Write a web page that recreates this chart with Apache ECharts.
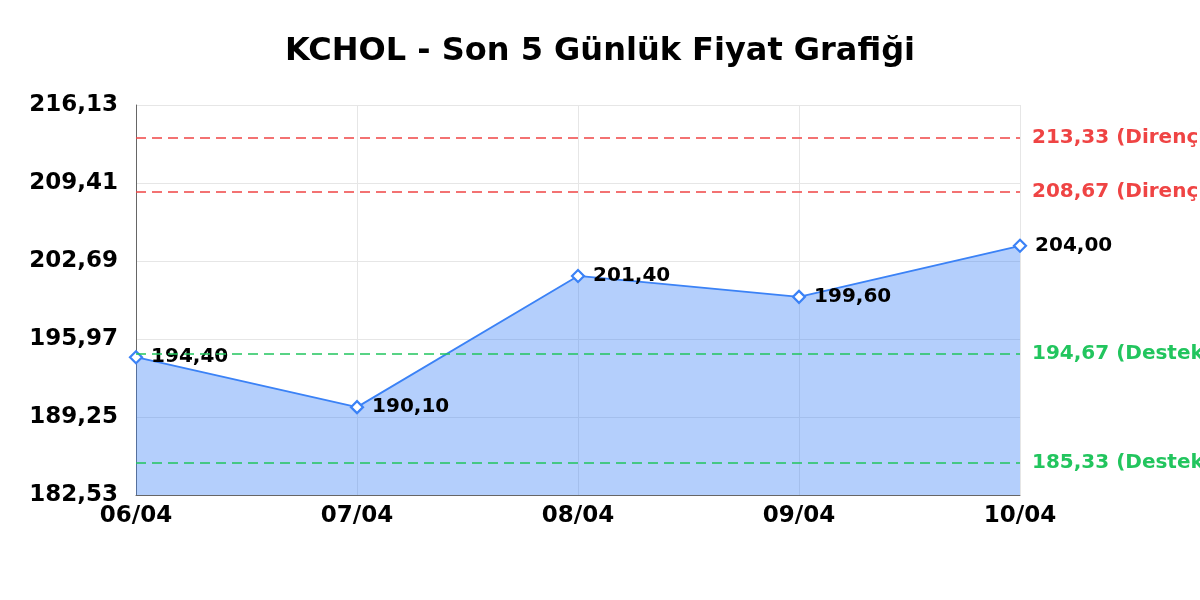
<!DOCTYPE html>
<html>
<head>
<meta charset="utf-8">
<script src="https://cdn.jsdelivr.net/npm/echarts@6/dist/echarts.min.js"></script>
<style>
  html, body { margin: 0; padding: 0; background: #fff; }
  #chart { width: 1200px; height: 600px; }
</style>
</head>
<body>
<div id="chart"></div>
<script>
// chart data
const dates = ['06/04', '07/04', '08/04', '09/04', '10/04']
const prices = [194.40, 190.10, 201.40, 199.60, 204.00]
const resistance = [213.33, 208.67]
const support = [194.67, 185.33]
const yMin = 182.53
const yMax = 216.13
const yStep = 6.72

const fmt = (v) => Number(v).toFixed(2).replace('.', ',')
const font = "'DejaVu Sans', Verdana, sans-serif"

const levelLines = [
  ...resistance.map(v => ({ yAxis: v, name: 'Direnç', color: '#ef4444' })),
  ...support.map(v => ({ yAxis: v, name: 'Destek', color: '#22c55e' }))
].map(l => ({
  yAxis: l.yAxis,
  lineStyle: { color: l.color, type: [10, 6], width: 1.5 },
  label: {
    show: true, position: 'end', distance: 12, color: l.color,
    fontFamily: font, fontWeight: 'bold', fontSize: 20,
    formatter: fmt(l.yAxis) + ' (' + l.name + ')'
  }
}))

const chart = echarts.init(document.getElementById('chart'))
chart.setOption({
  animation: false,
  title: {
    text: 'KCHOL - Son 5 Günlük Fiyat Grafiği',
    left: 'center', top: 31,
    textStyle: { fontFamily: font, fontWeight: 'bold', fontSize: 32, color: '#000' }
  },
  grid: { left: 136, right: 180, top: 105, bottom: 105 },
  xAxis: {
    type: 'category',
    data: dates,
    boundaryGap: false,
    axisLine: { lineStyle: { color: '#666' } },
    axisTick: { show: false },
    axisLabel: { fontFamily: font, fontWeight: 'bold', fontSize: 23, color: '#000', margin: 10 },
    splitLine: { show: true, lineStyle: { color: '#e6e6e6' } }
  },
  yAxis: {
    type: 'value',
    min: yMin, max: yMax, interval: yStep,
    axisLine: { show: true, lineStyle: { color: '#666' } },
    axisTick: { show: false },
    axisLabel: { fontFamily: font, fontWeight: 'bold', fontSize: 23, color: '#000', margin: 18, formatter: fmt },
    splitLine: { show: true, lineStyle: { color: '#e6e6e6' } }
  },
  series: [{
    type: 'line',
    data: prices,
    symbol: 'diamond',
    symbolSize: 12,
    itemStyle: { color: '#fff', borderColor: '#3b82f6', borderWidth: 2.2 },
    lineStyle: { color: '#3b82f6', width: 1.8 },
    areaStyle: { color: 'rgba(59,130,246,0.38)', opacity: 1 },
    label: {
      show: true, position: 'right', distance: 8,
      fontFamily: font, fontWeight: 'bold', fontSize: 20, color: '#000',
      formatter: p => fmt(p.value)
    },
    markLine: { silent: true, symbol: 'none', data: levelLines }
  }]
})
</script>
</body>
</html>
